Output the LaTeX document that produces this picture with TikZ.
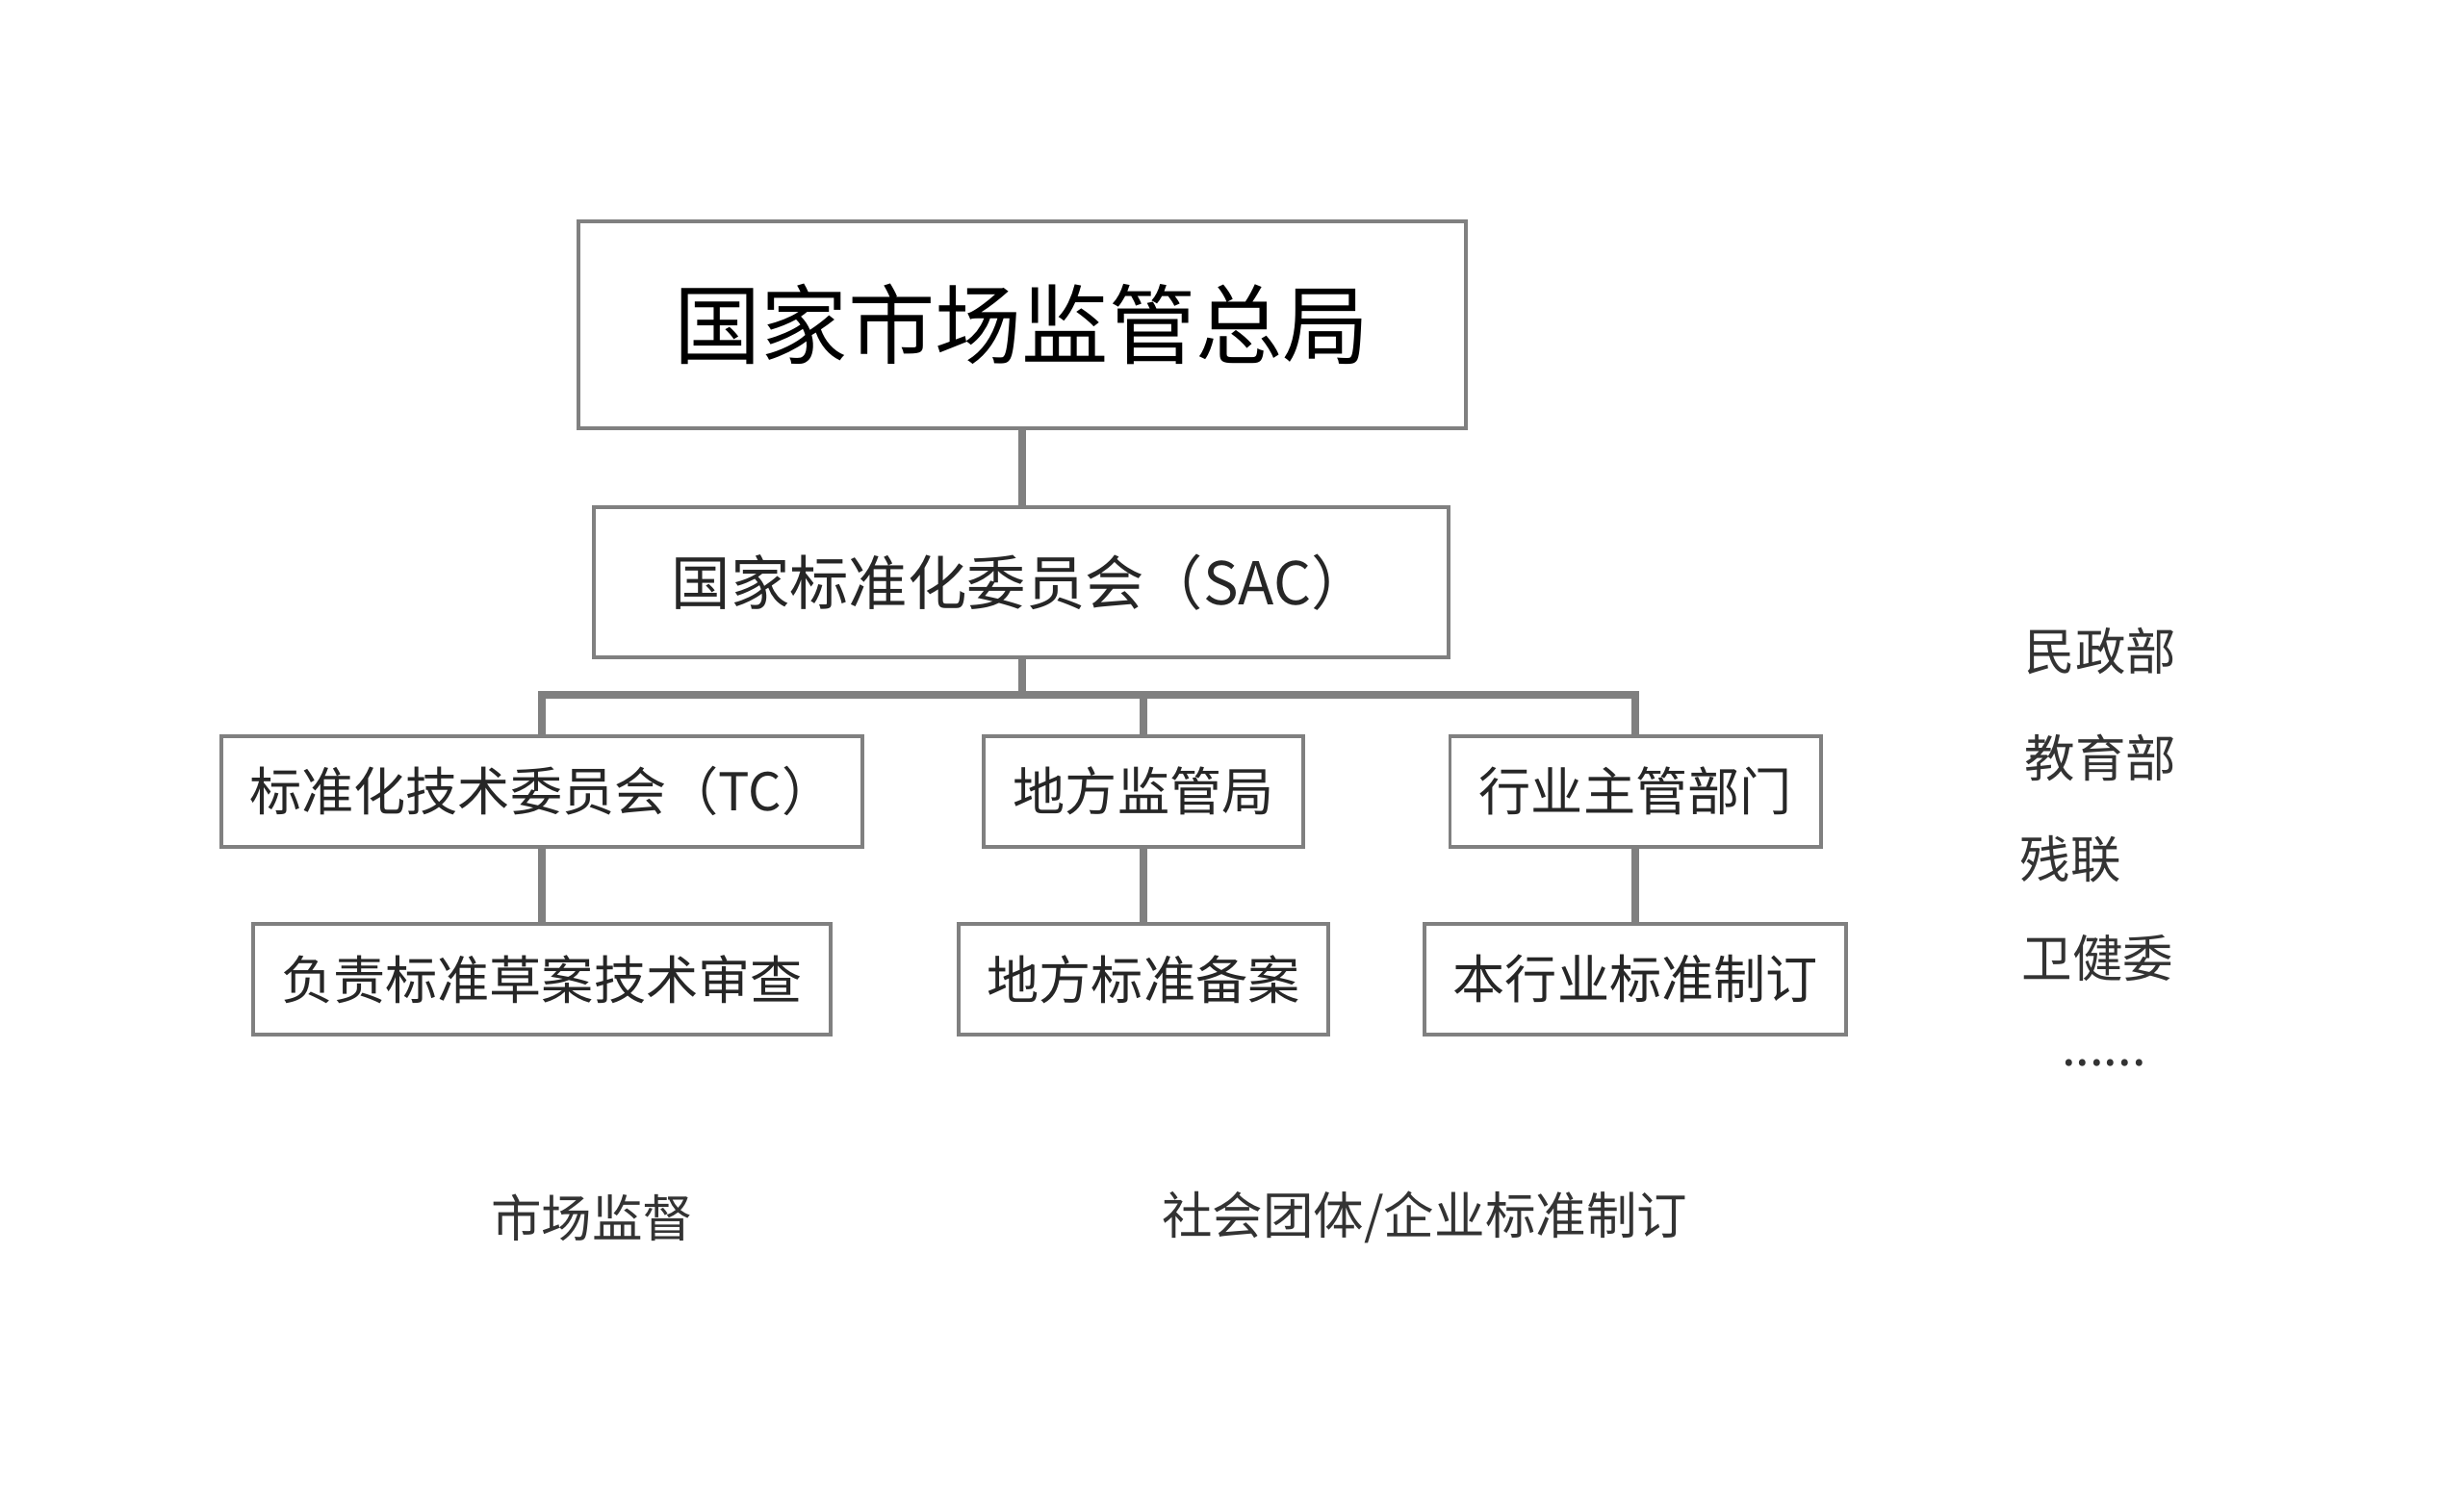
\documentclass[tikz,border=0pt]{standalone}
\usepackage{fontspec}
\setmainfont{Noto Sans CJK SC}
\begin{document}
\begin{tikzpicture}[x=0.5pt,y=-0.5pt,
  bx/.style={draw=black!50,line width=1.2pt,fill=white,text=black!85,inner sep=0pt},
  conn/.style={draw=black!50,line width=2.5pt},
  lbl/.style={text=black!80,font=\fontsize{16}{18}\selectfont}]
\useasboundingbox (0,0) rectangle (1560,956);
\node[bx,minimum width=281pt,minimum height=65.5pt,font=\fontsize{27.5}{30}\selectfont,text=black] (top) at (647,205.5) {国家市场监管总局};
\node[bx,minimum width=270.5pt,minimum height=47.5pt,font=\fontsize{18.7}{22}\selectfont] (sac) at (646.5,368.5) {国家标准化委员会（SAC）};
\node[bx,minimum width=203pt,minimum height=35pt,font=\fontsize{16.5}{20}\selectfont] (tc) at (343,501) {标准化技术委员会（TC）};
\node[bx,minimum width=101pt,minimum height=35pt,font=\fontsize{16.5}{20}\selectfont] (df) at (724,501) {地方监管局};
\node[bx,minimum width=117.5pt,minimum height=35pt,font=\fontsize{16.5}{20}\selectfont] (hy) at (1035.5,501) {行业主管部门};
\node[bx,minimum width=183pt,minimum height=35pt,font=\fontsize{16.5}{20}\selectfont] (fz) at (343,620) {负责标准草案技术审查};
\node[bx,minimum width=117pt,minimum height=35pt,font=\fontsize{16.5}{20}\selectfont] (dfba) at (724,620) {地方标准备案};
\node[bx,minimum width=133.5pt,minimum height=35pt,font=\fontsize{16.5}{20}\selectfont] (bhy) at (1035.5,620) {本行业标准制订};
\coordinate (bus) at (647,440);
\draw[conn] (top.south) -- (sac.north -| top.south);
\draw[conn] (sac.south -| bus) -- (bus);
\draw[conn] (tc.north) |- (bus) -| (hy.north);
\draw[conn] (df.north) -- (df.north |- bus);
\draw[conn] (tc.south) -- (fz.north);
\draw[conn] (df.south) -- (dfba.north);
\draw[conn] (hy.south) -- (hy.south |- bhy.north);
\node[lbl] (r1) at (1330,412) {民政部};
\node[lbl] (r2) at (1330,480) {教育部};
\node[lbl] (r3) at (1311,544) {残联};
\node[lbl] (r4) at (1328,607) {卫健委};
\node[lbl] (r5) at (1332,673) {......};
\node[lbl] (b1) at (375,771) {市场监督};
\node[lbl] (b2) at (902,771) {社会团体/企业标准制订};
\end{tikzpicture}
\end{document}
